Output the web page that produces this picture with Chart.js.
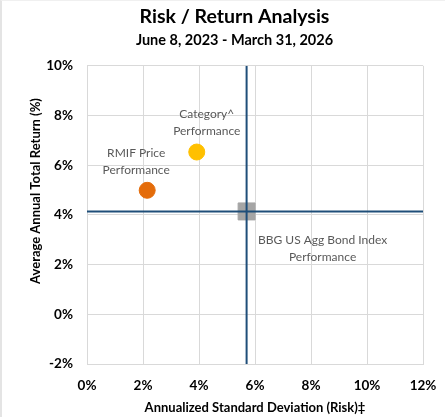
<!DOCTYPE html>
<html lang="en">
<head>
  <meta charset="UTF-8" />
  <title>Risk / Return Analysis</title>
  <script src="https://cdn.jsdelivr.net/npm/chart.js"></script>
  <style>
    html, body {
      margin: 0;
      padding: 0;
      background: #fff;
    }
    #wrap {
      position: relative;
      width: 445px;
      height: 417px;
      border-left: 2px solid #e4e4e4;
      border-top: 1px solid #f0f0f0;
      box-sizing: border-box;
    }
    canvas {
      display: block;
    }
  </style>
</head>
<body>
  <div id="wrap">
    <canvas id="riskChart" width="443" height="416"></canvas>
  </div>

  <script>
    // values (percent)
    const names = ['RMIF Price Performance', 'Category^ Performance', 'BBG US Agg Bond Index Performance'];
    const labelLines = [['RMIF Price', 'Performance'], ['Category^', 'Performance'], ['BBG US Agg Bond Index', 'Performance']];
    const riskValues = [2.15, 3.92, 5.7];
    const returnValues = [4.99, 6.53, 4.14];
    const pointColors = ['#E46C0A', '#FFC000', '#A5A5A5'];
    const pointShapes = ['circle', 'circle', 'rect'];
    const pointSizes = [8, 8, 12];

    const xTicks = [0, 2, 4, 6, 8, 10, 12];
    const yTicks = [-2, 0, 2, 4, 6, 8, 10];

    const benchIdx = 2;
    const navy = '#1F4E79';

    const fontFam = "Lato, 'Open Sans', sans-serif";
    const yTitle = 'Average Annual Total Return (%)';

    // label offsets relative to each marker (px)
    const labelOffsets = [[-11, -37], [10, -38], [76, 29]];

    const pointLabels = {
      id: 'pointLabels',
      afterDatasetsDraw(chart) {
        const ctx = chart.ctx;
        const xs = chart.scales.x, ys = chart.scales.y;
        ctx.save();
        ctx.font = '12px ' + fontFam;
        ctx.fillStyle = '#595959';
        ctx.textAlign = 'center';
        ctx.textBaseline = 'middle';
        labelLines.forEach((lines, i) => {
          const px = xs.getPixelForValue(riskValues[i]) + labelOffsets[i][0];
          const py = ys.getPixelForValue(returnValues[i]) + labelOffsets[i][1];
          lines.forEach((t, k) => ctx.fillText(t, px, py + k * 17));
        });
        // y axis title, sits a bit above the middle like the original
        const a = chart.chartArea;
        ctx.font = 'bold 13px ' + fontFam;
        ctx.fillStyle = '#000';
        ctx.translate(34, a.top + a.height * 0.42);
        ctx.rotate(-Math.PI / 2);
        ctx.fillText(yTitle, 0, 0);
        ctx.restore();
      }
    };

    const datasets = names.map((n, i) => ({
      label: n,
      data: [{ x: riskValues[i], y: returnValues[i] }],
      backgroundColor: pointColors[i],
      borderColor: pointColors[i],
      pointStyle: pointShapes[i],
      pointRadius: pointSizes[i],
      pointHoverRadius: pointSizes[i],
      order: 2
    }));

    // crosshair through the benchmark point
    datasets.push({
      label: 'vline',
      data: [{ x: riskValues[benchIdx], y: yTicks[0] }, { x: riskValues[benchIdx], y: yTicks[yTicks.length - 1] }],
      showLine: true,
      borderColor: navy,
      borderWidth: 2,
      pointRadius: 0,
      order: 0
    });
    datasets.push({
      label: 'hline',
      data: [{ x: xTicks[0], y: returnValues[benchIdx] }, { x: xTicks[xTicks.length - 1], y: returnValues[benchIdx] }],
      showLine: true,
      borderColor: navy,
      borderWidth: 2,
      pointRadius: 0,
      order: 0
    });

    new Chart(document.getElementById('riskChart'), {
      type: 'scatter',
      data: { datasets },
      options: {
        responsive: false,
        animation: false,
        layout: { padding: { left: 44, right: 22, top: 4, bottom: 0 } },
        plugins: {
          legend: { display: false },
          tooltip: { enabled: false },
          title: {
            display: true,
            text: 'Risk / Return Analysis',
            color: '#000',
            font: { family: fontFam, size: 19.5, weight: 'bold' },
            padding: { top: 0, bottom: 3 }
          },
          subtitle: {
            display: true,
            text: 'June 8, 2023 - March 31, 2026',
            color: '#000',
            font: { family: fontFam, size: 14.5, weight: 'bold' },
            padding: { top: 0, bottom: 17 }
          }
        },
        scales: {
          x: {
            type: 'linear',
            min: xTicks[0],
            max: xTicks[xTicks.length - 1],
            afterBuildTicks: s => { s.ticks = xTicks.map(v => ({ value: v })); },
            afterFit: s => { s.height = 53; s.paddingLeft = 0; s.paddingRight = 0; },
            ticks: {
              callback: v => v + '%',
              color: '#000',
              font: { family: fontFam, size: 13.5, weight: 'bold' },
              padding: 14
            },
            grid: { color: '#D9D9D9', drawTicks: false },
            border: { color: '#D9D9D9' },
            title: {
              display: true,
              text: 'Annualized Standard Deviation (Risk)‡',
              color: '#000',
              font: { family: fontFam, size: 13, weight: 'bold' },
              padding: { top: 4, bottom: 1 }
            }
          },
          y: {
            type: 'linear',
            min: yTicks[0],
            max: yTicks[yTicks.length - 1],
            afterBuildTicks: s => { s.ticks = yTicks.map(v => ({ value: v })); },
            afterFit: s => { s.width = 41; s.paddingTop = 0; s.paddingBottom = 0; },
            ticks: {
              callback: v => v + '%',
              color: '#000',
              font: { family: fontFam, size: 13.5, weight: 'bold' },
              padding: 14
            },
            grid: { color: '#D9D9D9', drawTicks: false },
            border: { color: '#D9D9D9' }
          }
        }
      },
      plugins: [pointLabels]
    });
  </script>
</body>
</html>
